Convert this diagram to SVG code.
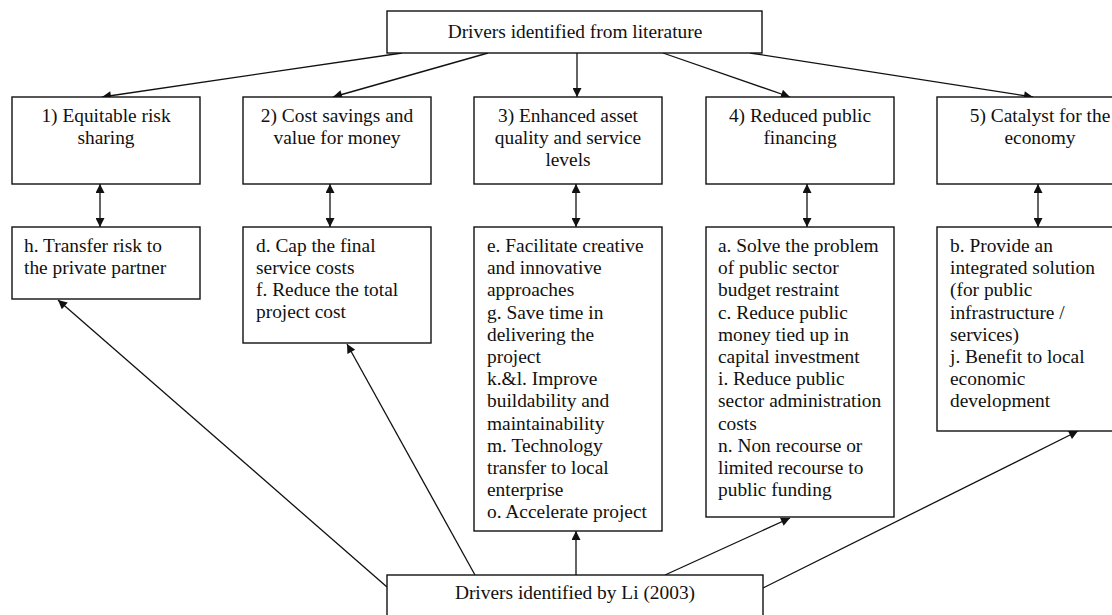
<svg xmlns="http://www.w3.org/2000/svg" width="1112" height="615" viewBox="0 0 1112 615">
<defs>
<style>
.box{fill:#fff;stroke:#111;stroke-width:1.4}
.t{font-family:"Liberation Serif","Times New Roman",serif;font-size:19.4px;fill:#111}
.c{text-anchor:middle}
.ln{stroke:#111;stroke-width:1.3;fill:none}
</style>
<marker id="ah" viewBox="0 0 10 10" refX="10" refY="5" markerUnits="userSpaceOnUse" markerWidth="10" markerHeight="9" orient="auto-start-reverse">
<path d="M0,0 L10,5 L0,10 z" fill="#111"/>
</marker>
</defs>
<rect width="1112" height="615" fill="#fff"/>
<g id="connectors">
<line class="ln" x1="402" y1="53" x2="102" y2="97" marker-end="url(#ah)"/>
<line class="ln" x1="488" y1="53" x2="333" y2="97" marker-end="url(#ah)"/>
<line class="ln" x1="577" y1="53" x2="577" y2="97" marker-end="url(#ah)"/>
<line class="ln" x1="663" y1="53" x2="790" y2="97" marker-end="url(#ah)"/>
<line class="ln" x1="750" y1="53" x2="1033" y2="97" marker-end="url(#ah)"/>
<line class="ln" x1="100" y1="184" x2="100" y2="227" marker-start="url(#ah)" marker-end="url(#ah)"/>
<line class="ln" x1="330" y1="184" x2="330" y2="227" marker-start="url(#ah)" marker-end="url(#ah)"/>
<line class="ln" x1="576" y1="184" x2="576" y2="227" marker-start="url(#ah)" marker-end="url(#ah)"/>
<line class="ln" x1="807" y1="184" x2="807" y2="227" marker-start="url(#ah)" marker-end="url(#ah)"/>
<line class="ln" x1="1038" y1="184" x2="1038" y2="227" marker-start="url(#ah)" marker-end="url(#ah)"/>
<line class="ln" x1="387" y1="587" x2="58" y2="300" marker-end="url(#ah)"/>
<line class="ln" x1="475" y1="575" x2="347" y2="344" marker-end="url(#ah)"/>
<line class="ln" x1="576" y1="575" x2="576" y2="531" marker-end="url(#ah)"/>
<line class="ln" x1="665" y1="575" x2="790" y2="518" marker-end="url(#ah)"/>
<line class="ln" x1="763" y1="588" x2="1078" y2="431" marker-end="url(#ah)"/>
</g>
<g id="top">
<rect class="box" x="387" y="11" width="375" height="42"/>
<text class="t c" x="575" y="38">Drivers identified from literature</text>
</g>
<g id="d1">
<rect class="box" x="12" y="97" width="188" height="87"/>
<text class="t c" x="106" y="122">1) Equitable risk</text>
<text class="t c" x="106" y="144">sharing</text>
</g>
<g id="d2">
<rect class="box" x="243" y="97" width="188" height="87"/>
<text class="t c" x="337" y="122">2) Cost savings and</text>
<text class="t c" x="337" y="144">value for money</text>
</g>
<g id="d3">
<rect class="box" x="474" y="97" width="188" height="87"/>
<text class="t c" x="568" y="122">3) Enhanced asset</text>
<text class="t c" x="568" y="144">quality and service</text>
<text class="t c" x="568" y="166">levels</text>
</g>
<g id="d4">
<rect class="box" x="706" y="97" width="188" height="87"/>
<text class="t c" x="800" y="122">4) Reduced public</text>
<text class="t c" x="800" y="144">financing</text>
</g>
<g id="d5">
<rect class="box" x="937" y="97" width="206" height="87"/>
<text class="t c" x="1040" y="122">5) Catalyst for the</text>
<text class="t c" x="1040" y="144">economy</text>
</g>
<g id="h">
<rect class="box" x="12" y="227" width="188" height="72"/>
<text class="t" x="24" y="252">h. Transfer risk to</text>
<text class="t" x="24" y="274">the private partner</text>
</g>
<g id="df">
<rect class="box" x="243" y="227" width="188" height="116"/>
<text class="t" x="256" y="252">d. Cap the final</text>
<text class="t" x="256" y="274">service costs</text>
<text class="t" x="256" y="296">f. Reduce the total</text>
<text class="t" x="256" y="318">project cost</text>
</g>
<g id="e">
<rect class="box" x="474" y="227" width="188" height="304"/>
<text class="t" x="487" y="252">e. Facilitate creative</text>
<text class="t" x="487" y="274.2">and innovative</text>
<text class="t" x="487" y="296.4">approaches</text>
<text class="t" x="487" y="318.6">g. Save time in</text>
<text class="t" x="487" y="340.8">delivering the</text>
<text class="t" x="487" y="363">project</text>
<text class="t" x="487" y="385.2">k.&amp;l. Improve</text>
<text class="t" x="487" y="407.4">buildability and</text>
<text class="t" x="487" y="429.6">maintainability</text>
<text class="t" x="487" y="451.8">m. Technology</text>
<text class="t" x="487" y="474">transfer to local</text>
<text class="t" x="487" y="496.2">enterprise</text>
<text class="t" x="487" y="518.4">o. Accelerate project</text>
</g>
<g id="a">
<rect class="box" x="706" y="227" width="188" height="290"/>
<text class="t" x="718" y="252">a. Solve the problem</text>
<text class="t" x="718" y="274.2">of public sector</text>
<text class="t" x="718" y="296.4">budget restraint</text>
<text class="t" x="718" y="318.6">c. Reduce public</text>
<text class="t" x="718" y="340.8">money tied up in</text>
<text class="t" x="718" y="363">capital investment</text>
<text class="t" x="718" y="385.2">i. Reduce public</text>
<text class="t" x="718" y="407.4">sector administration</text>
<text class="t" x="718" y="429.6">costs</text>
<text class="t" x="718" y="451.8">n. Non recourse or</text>
<text class="t" x="718" y="474">limited recourse to</text>
<text class="t" x="718" y="496.2">public funding</text>
</g>
<g id="b">
<rect class="box" x="937" y="227" width="206" height="204"/>
<text class="t" x="950" y="252">b. Provide an</text>
<text class="t" x="950" y="274.2">integrated solution</text>
<text class="t" x="950" y="296.4">(for public</text>
<text class="t" x="950" y="318.6">infrastructure /</text>
<text class="t" x="950" y="340.8">services)</text>
<text class="t" x="950" y="363">j. Benefit to local</text>
<text class="t" x="950" y="385.2">economic</text>
<text class="t" x="950" y="407.4">development</text>
</g>
<g id="li">
<rect class="box" x="387" y="575" width="376" height="50"/>
<text class="t c" x="575" y="599">Drivers identified by Li (2003)</text>
</g>
</svg>
